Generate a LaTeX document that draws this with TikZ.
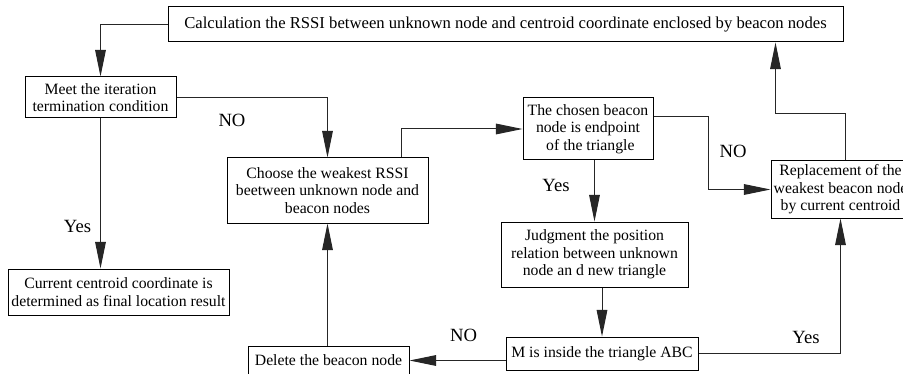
\documentclass[tikz,border=0pt]{standalone}
\usepackage{fontspec}
\setmainfont{Liberation Serif}
\usetikzlibrary{arrows.meta,calc}
\begin{document}
\begin{tikzpicture}[x=0.75pt,y=-0.75pt,
  box/.style={draw=black, line width=0.75pt, fill=white, align=center, inner sep=0pt,
    font=\fontsize{11.8}{13.2}\selectfont},
  conn/.style={draw=black!85, line width=0.75pt, -{Triangle[length=20pt,width=8pt]}},
  lbl/.style={anchor=base, inner sep=0pt, font=\fontsize{14}{16}\selectfont}]
\path[use as bounding box, clip] (0,0) rectangle (903,374);
\fill[white] (0,0) rectangle (903,374);

\node[box, minimum width=506.25pt, minimum height=26.25pt, font=\fontsize{12.5}{15}\selectfont] (top) at (505.5,24.5)
  {Calculation the RSSI between unknown node and centroid coordinate enclosed by beacon nodes};
\node[box, minimum width=113.25pt, minimum height=30.75pt] (meet) at (100.5,97.5)
  {Meet the iteration\\termination condition};
\node[box, minimum width=165.75pt, minimum height=34.5pt] (cur) at (118.5,292)
  {Current centroid coordinate is\\determined as final location result};
\node[box, minimum width=150.75pt, minimum height=48.75pt] (choose) at (327.5,190.5)
  {Choose the weakest RSSI\\beetween unknown node and\\beacon nodes};
\node[box, minimum width=97.5pt, minimum height=46.5pt] (chosen) at (588,129)
  {The chosen beacon\\node is endpoint\\\hspace{0.3em}of the triangle};
\node[box, minimum width=104.25pt, minimum height=42.75pt] (repl) at (840.5,189.5)
  {Replacement of the\\weakest beacon node\\by current centroid};
\node[box, minimum width=140.25pt, minimum height=48.75pt] (judg) at (594.5,254.5)
  {Judgment the position\\relation between unknown\\node an d new triangle};
\node[box, minimum width=144pt, minimum height=24.75pt] (m) at (602,353.5)
  {M is inside the triangle ABC};
\node[box, minimum width=120.75pt, minimum height=21.75pt] (del) at (328.5,360.5)
  {Delete the beacon node};

\coordinate (upout) at ($(top.south east)+(-68,0)$);

\draw[conn] (top.west) -| (meet.north);
\draw[conn] (meet.east) -| (choose.north);
\draw[conn] (meet.south) -- (meet.south |- cur.north);
\draw[conn] (choose.north east) ++(-27,0) |- (chosen.west);
\draw[conn] (chosen.east) ++(0,-12) -- ++(55,0) |- (repl.west);
\draw[conn] (judg.north |- chosen.south) -- (judg.north);
\draw[conn] (m.north |- judg.south) -- (m.north);
\draw[conn] (m.west |- del.east) -- (del.east);
\draw[conn] (choose.south |- del.north) -- (choose.south);
\draw[conn] (m.east) -| (repl.south);
\draw[conn] (repl.north) ++(5,0) -- ++(0,-47) -| (upout);

\node[lbl] (l1) at (232,127) {NO};
\node[lbl] (l2) at (77.5,233) {Yes};
\node[lbl] (l3) at (556,191) {Yes};
\node[lbl] (l4) at (733,158) {NO};
\node[lbl] (l5) at (463.5,341) {NO};
\node[lbl] (l6) at (806,343) {Yes};
\end{tikzpicture}
\end{document}
